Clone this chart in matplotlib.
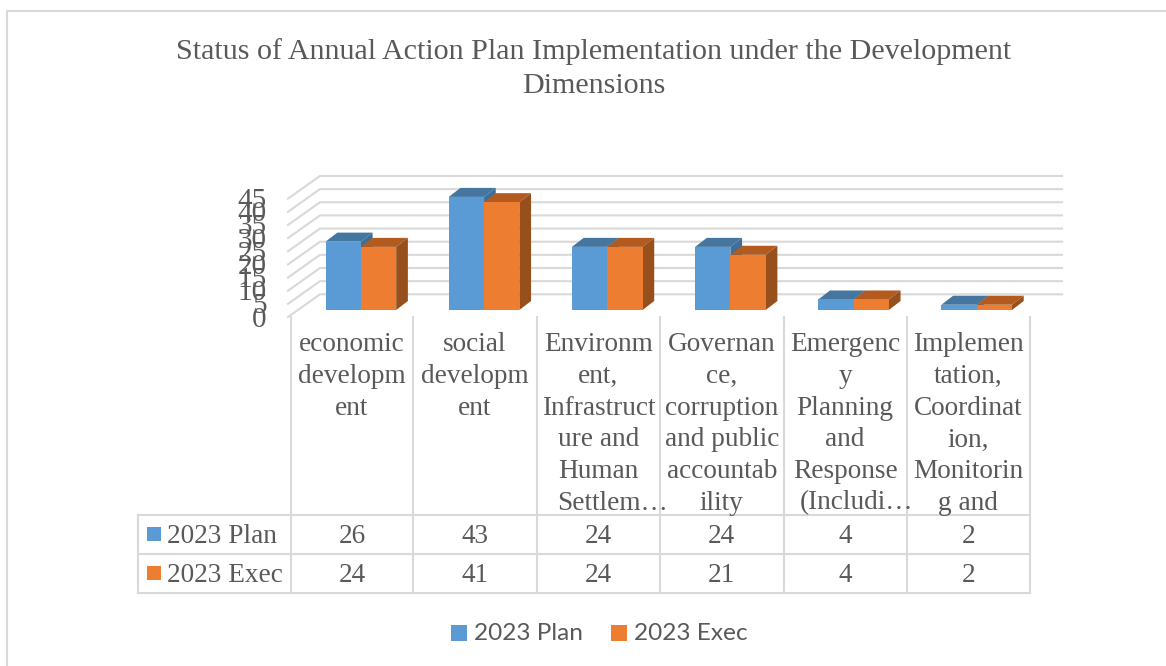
import matplotlib
matplotlib.use('Agg')
import matplotlib.pyplot as plt
from matplotlib.patches import Polygon, Rectangle

title_lines = ['Status of Annual Action Plan Implementation under the Development', 'Dimensions']
series_names = ['2023 Plan', '2023 Exec']
plan = [26, 43, 24, 24, 4, 2]
execd = [24, 41, 24, 21, 4, 2]
yticks = [0, 5, 10, 15, 20, 25, 30, 35, 40, 45]
cat_lines = [
    ['economic', 'developm', 'ent'],
    ['social', 'developm', 'ent'],
    ['Environm', 'ent,', 'Infrastruct', 'ure and', 'Human', 'Settlem…'],
    ['Governan', 'ce,', 'corruption', 'and public', 'accountab', 'ility'],
    ['Emergenc', 'y', 'Planning', 'and', 'Response', '(Includi…'],
    ['Implemen', 'tation,', 'Coordinat', 'ion,', 'Monitorin', 'g and'],
]

W, H = 1166, 666
TXT = '#595959'
GRID = '#d9d9d9'
SERIF = 'Liberation Serif'
cols = [('#5b9bd5', '#44769f', '#3f6f98'), ('#ed7d31', '#b35a1f', '#97501c')]

fig = plt.figure(figsize=(W / 100, H / 100), dpi=100, facecolor='white')

# full figure overlay in pixel units for frame, table and legend
bg = fig.add_axes([0, 0, 1, 1])
bg.set_xlim(0, W)
bg.set_ylim(H, 0)
bg.axis('off')

# plot area: x is category index, y is value
x0, x1 = 291, 1030
base_y = 310
px_per_unit = 2.63
top_y = base_y - 45 * px_per_unit
ax = fig.add_axes([x0 / W, 1 - base_y / H, (x1 - x0) / W, (base_y - top_y) / H])
ax.set_xlim(0, 6)
ax.set_ylim(0, 45)
ax.axis('off')
ax.patch.set_alpha(0)
ux = 6 / (x1 - x0)
uy = 1 / px_per_unit

# outer frame, only top and left show
bg.plot([7, 7, W], [H, 11, 11], color=GRID, lw=1.5, solid_capstyle='butt')

# back wall gridlines and the slanted side wall
for v in yticks:
    xa = -3 * ux
    xb = 29 * ux
    xc = 771 * ux
    y_back = v + 15.7 * uy
    ax.plot([xa, xb, xc], [y_back - 22.7 * uy, y_back, y_back], color=GRID, lw=1.5,
            clip_on=False, zorder=1, solid_joinstyle='miter')
    ax.text(-24.5 * ux, v - 9.5 * uy, str(v), ha='right', va='center', family=SERIF,
            fontsize=21, color=TXT, clip_on=False)

# 3d style bars built from the front face plus two offset faces
bw = 35.3 * ux
shift = 8.3 * ux
dx, dy = 11.7 * ux, 9 * uy
for i in range(len(plan)):
    for s, vals in enumerate([plan, execd]):
        v = vals[i]
        left = i + 0.5 + shift - bw + s * bw
        front, top, side = cols[s]
        right = left + bw
        ax.add_patch(Polygon([(left, v), (right, v), (right + dx, v + dy), (left + dx, v + dy)],
                             fc=top, ec='none', zorder=3 + s, clip_on=False))
        ax.add_patch(Polygon([(right, 0), (right + dx, dy), (right + dx, v + dy), (right, v)],
                             fc=side, ec='none', zorder=3 + s, clip_on=False))
        ax.bar(left, v, width=bw, align='edge', color=front, zorder=3 + s, clip_on=False)

# data table grid
col_x = [290.5, 413.3, 536.8, 660, 783.5, 906.7, 1030]
row_y = [514.5, 553.5, 592.5]
for x in col_x:
    bg.plot([x, x], [316, 592.5], color=GRID, lw=1.5, solid_capstyle='butt')
bg.plot([138, 138], [514.5, 592.5], color=GRID, lw=1.5, solid_capstyle='projecting')
for y in row_y:
    bg.plot([138, 1030], [y, y], color=GRID, lw=1.5, solid_capstyle='projecting')

# wrapped category labels
line_base = [351, 383, 415, 446.5, 478, 509.5]
for i, lines in enumerate(cat_lines):
    cx = (col_x[i] + col_x[i + 1]) / 2
    for k, t in enumerate(lines):
        if t.endswith('…'):
            # ellipsis hangs past the centred part of the word
            off = {'Settlem…': -41.5, '(Includi…': -45.5}[t]
            bg.text(cx + off, line_base[k], t, ha='left', va='baseline', family=SERIF,
                    fontsize=19.6, color=TXT)
        else:
            bg.text(cx, line_base[k], t, ha='center', va='baseline', family=SERIF,
                    fontsize=19.6, color=TXT)

# table rows
for r, (name, vals) in enumerate(zip(series_names, [plan, execd])):
    base = [543, 582][r]
    bg.add_patch(Rectangle((147, base - 16), 14, 14, fc=cols[r][0], ec='none'))
    bg.text(167, base, name, ha='left', va='baseline', family=SERIF, fontsize=19.6, color=TXT)
    for i, v in enumerate(vals):
        cx = (col_x[i] + col_x[i + 1]) / 2
        bg.text(cx, base, str(v), ha='center', va='baseline', family=SERIF, fontsize=19.6, color=TXT)

# title
for t, base in zip(title_lines, [59, 93]):
    bg.text(593.5, base, t, ha='center', va='baseline', family=SERIF, fontsize=21.65, color=TXT)

# legend
for name, sx, tx, c in zip(series_names, [451, 611], [474, 633.5], cols):
    bg.add_patch(Rectangle((sx, 625), 16, 16, fc=c[0], ec='none'))
    bg.text(tx, 640.5, name, ha='left', va='baseline', family='Lato', fontsize=17.6, color=TXT)

fig.savefig('out.png', dpi=100)
